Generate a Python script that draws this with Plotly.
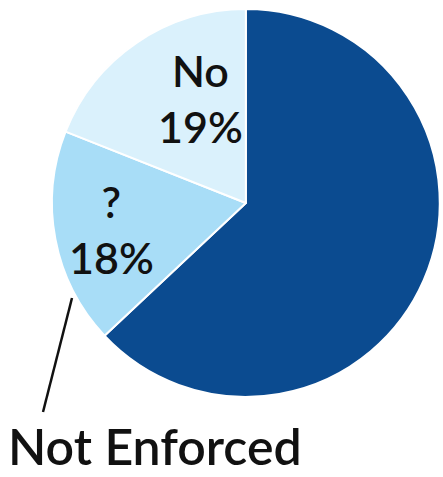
import plotly.graph_objects as go

# Survey answer shares (percent)
labels = ["Yes", "?", "No"]
values = [63, 18, 19]
colors = ["#0b4b90", "#a8ddf7", "#daf1fc"]
callout_text = "Not Enforced"

# Label anchors (paper px) for the two lighter slices
label_pos = {"?": (111, 229), "No": (200, 99)}

W, H = 443, 477

fig = go.Figure(
    go.Pie(
        labels=labels,
        values=values,
        textinfo="none",
        sort=False,
        direction="clockwise",
        rotation=0,
        marker=dict(colors=colors, line=dict(color="white", width=2)),
        domain=dict(x=[0.117, 0.993], y=[0.168, 0.981]),
        showlegend=False,
        hoverinfo="label+percent",
    )
)

# Slice labels built from the data
for lab, val in zip(labels, values):
    if lab not in label_pos:
        continue
    px, py = label_pos[lab]
    fig.add_annotation(
        text=f"{lab}<br>{val}%", xref="paper", yref="paper",
        x=px / W, y=1 - py / H, xanchor="center", yanchor="middle",
        showarrow=False, align="center",
        font=dict(family="Lato", size=43, color="#111111", weight=600),
    )

# Callout for the "?" slice
fig.add_shape(
    type="line", xref="paper", yref="paper",
    x0=43 / W, y0=1 - 412 / H, x1=72 / W, y1=1 - 298 / H,
    line=dict(color="#111111", width=2.5),
)
fig.add_annotation(
    text=callout_text, xref="paper", yref="paper",
    x=0.015, y=0.0, xanchor="left", yanchor="bottom",
    showarrow=False, borderpad=0,
    font=dict(family="Lato", size=50, color="#111111", weight=600),
)

fig.update_layout(
    width=W, height=H,
    margin=dict(l=0, r=0, t=0, b=0),
    paper_bgcolor="white", plot_bgcolor="white",
)

fig.write_html("out.html")
